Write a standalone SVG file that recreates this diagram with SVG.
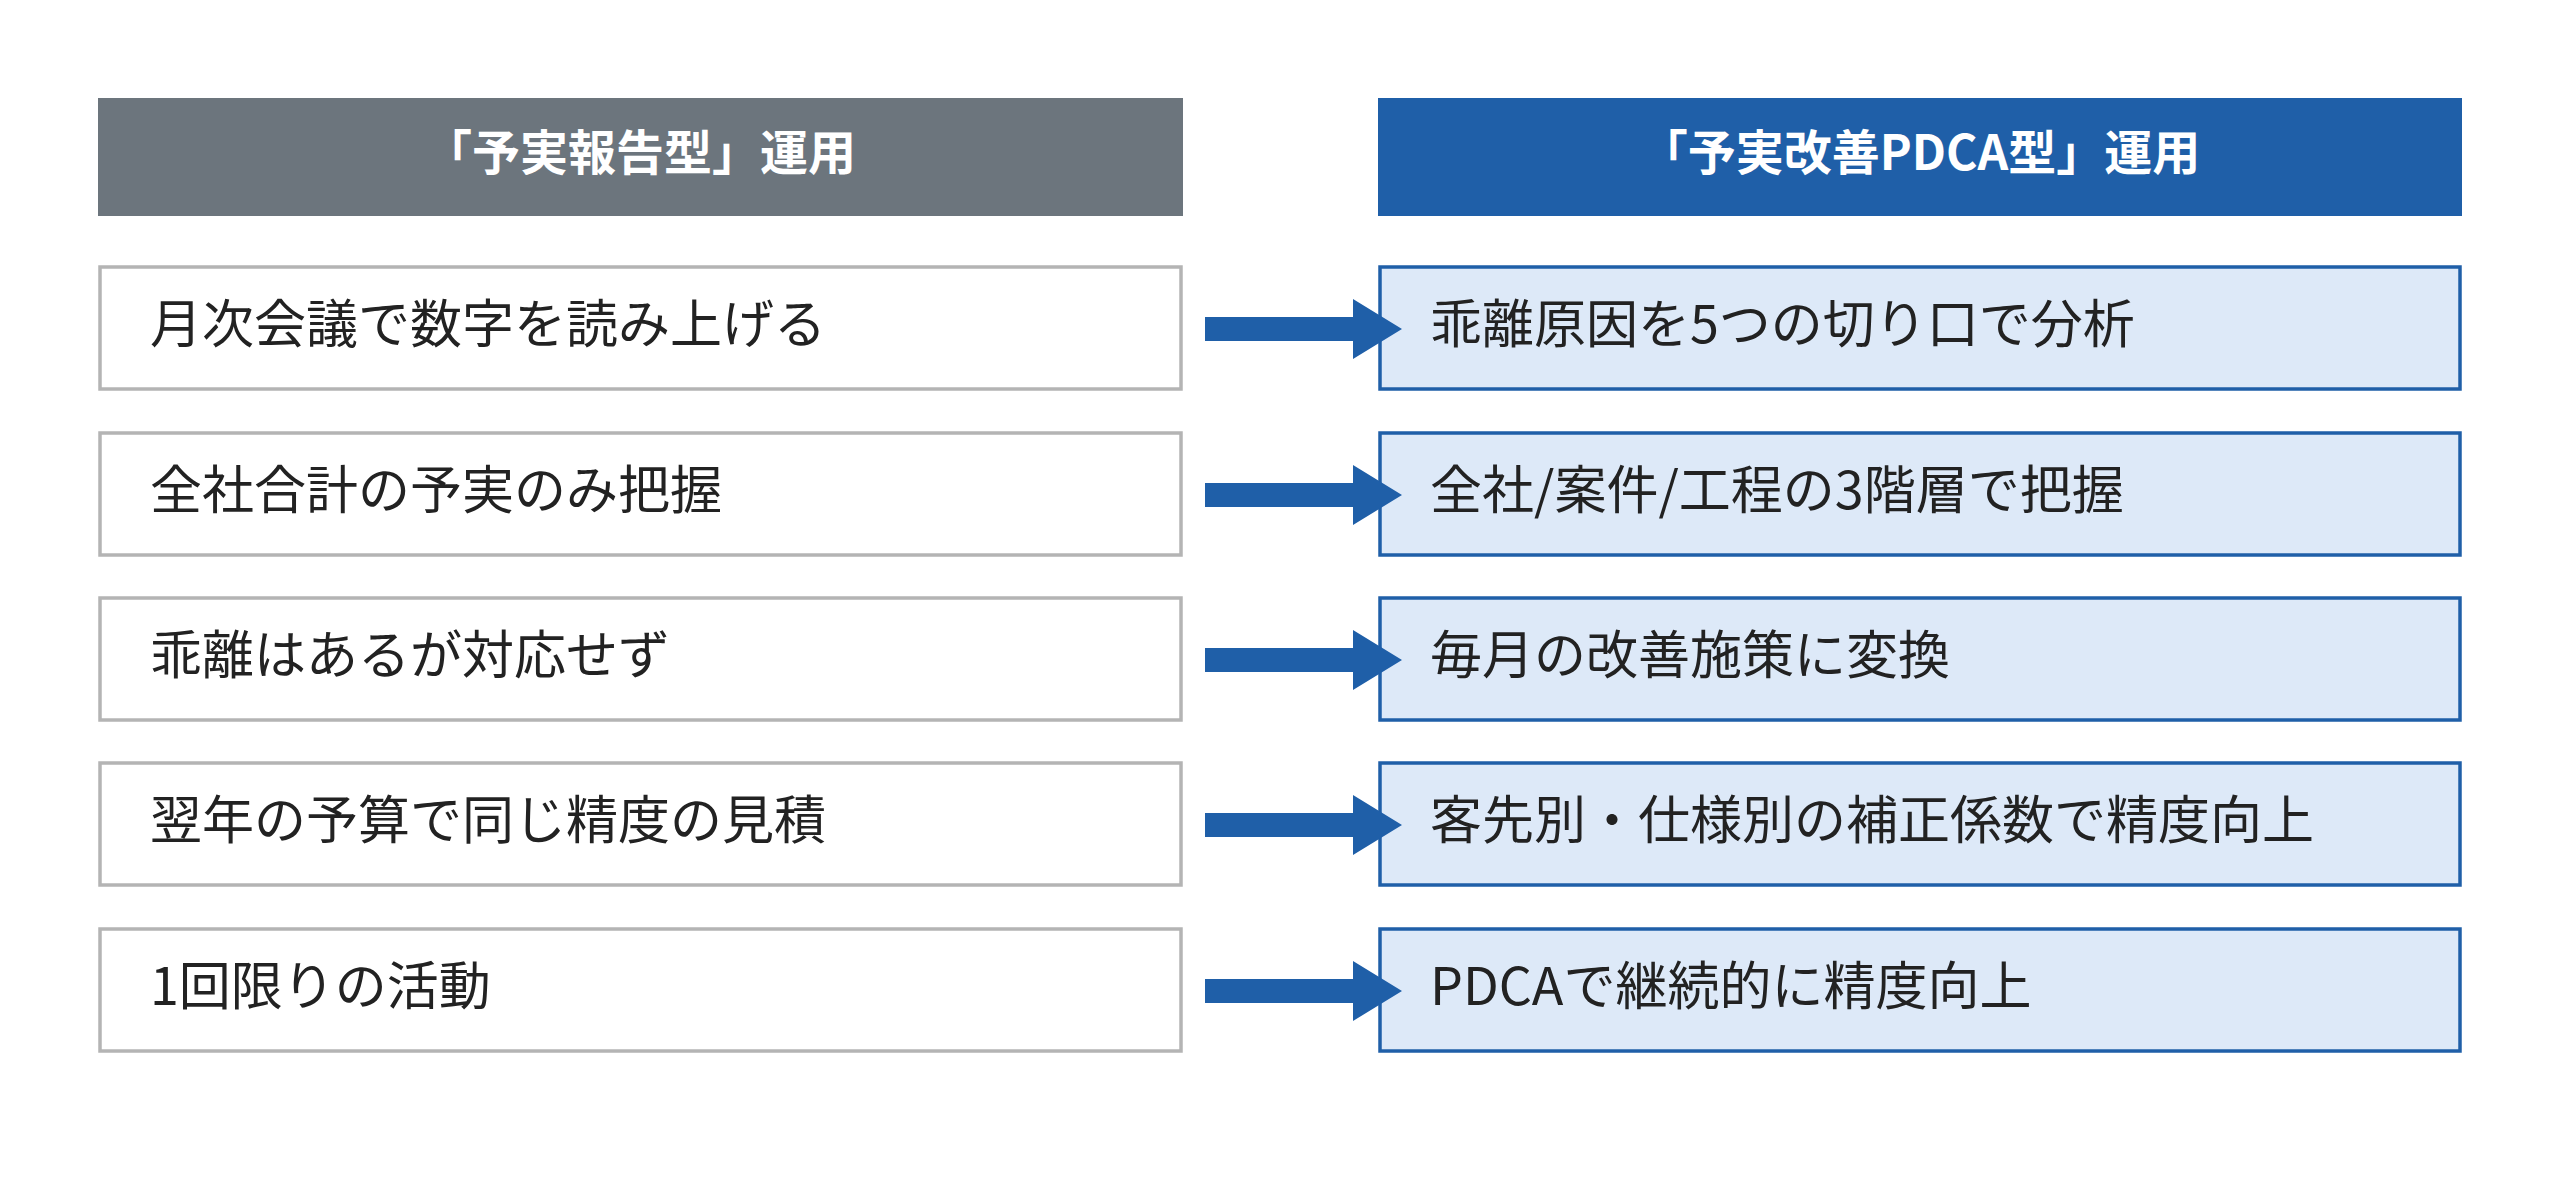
<svg xmlns="http://www.w3.org/2000/svg" width="2560" height="1191" viewBox="0 0 2560 1191">
<style>
.t{font-family:"Noto Sans CJK JP","Noto Sans",sans-serif;font-size:52px;fill:#222}
.h{font-family:"Noto Sans CJK JP","Noto Sans",sans-serif;font-size:48px;font-weight:bold;fill:#fff;text-anchor:middle}
.l{fill:#fff;stroke:#b4b4b4;stroke-width:3.5}
.r{fill:#dde9f8;stroke:#1f5fa8;stroke-width:3.5}
.a{fill:#1f5fa8}
</style>
<rect width="2560" height="1191" fill="#fff"/>
<g id="header-left"><rect x="98" y="98" width="1085" height="118" fill="#6c757d"/><text class="h" x="640" y="170">「予実報告型」運用</text></g>
<g id="header-right"><rect x="1378" y="98" width="1084" height="118" fill="#1f5fa8"/><text class="h" x="1920" y="170">「予実改善PDCA型」運用</text></g>
<g id="l1"><rect class="l" x="100" y="267" width="1081" height="122"/><text class="t" x="150" y="343">月次会議で数字を読み上げる</text></g>
<g id="l2"><rect class="l" x="100" y="433" width="1081" height="122"/><text class="t" x="150" y="509">全社合計の予実のみ把握</text></g>
<g id="l3"><rect class="l" x="100" y="598" width="1081" height="122"/><text class="t" x="150" y="674">乖離はあるが対応せず</text></g>
<g id="l4"><rect class="l" x="100" y="763" width="1081" height="122"/><text class="t" x="150" y="839">翌年の予算で同じ精度の見積</text></g>
<g id="l5"><rect class="l" x="100" y="929" width="1081" height="122"/><text class="t" x="150" y="1005">1回限りの活動</text></g>
<g id="r1"><rect class="r" x="1380" y="267" width="1080" height="122"/><text class="t" x="1430" y="343">乖離原因を5つの切り口で分析</text></g>
<g id="r2"><rect class="r" x="1380" y="433" width="1080" height="122"/><text class="t" x="1430" y="509">全社/案件/工程の3階層で把握</text></g>
<g id="r3"><rect class="r" x="1380" y="598" width="1080" height="122"/><text class="t" x="1430" y="674">毎月の改善施策に変換</text></g>
<g id="r4"><rect class="r" x="1380" y="763" width="1080" height="122"/><text class="t" x="1430" y="839">客先別・仕様別の補正係数で精度向上</text></g>
<g id="r5"><rect class="r" x="1380" y="929" width="1080" height="122"/><text class="t" x="1430" y="1005">PDCAで継続的に精度向上</text></g>
<g id="connectors">
<polygon class="a" points="1205,317 1353,317 1353,299 1402,329 1353,359 1353,341 1205,341"/>
<polygon class="a" transform="translate(0,166)" points="1205,317 1353,317 1353,299 1402,329 1353,359 1353,341 1205,341"/>
<polygon class="a" transform="translate(0,331)" points="1205,317 1353,317 1353,299 1402,329 1353,359 1353,341 1205,341"/>
<polygon class="a" transform="translate(0,496)" points="1205,317 1353,317 1353,299 1402,329 1353,359 1353,341 1205,341"/>
<polygon class="a" transform="translate(0,662)" points="1205,317 1353,317 1353,299 1402,329 1353,359 1353,341 1205,341"/>
</g>
</svg>
